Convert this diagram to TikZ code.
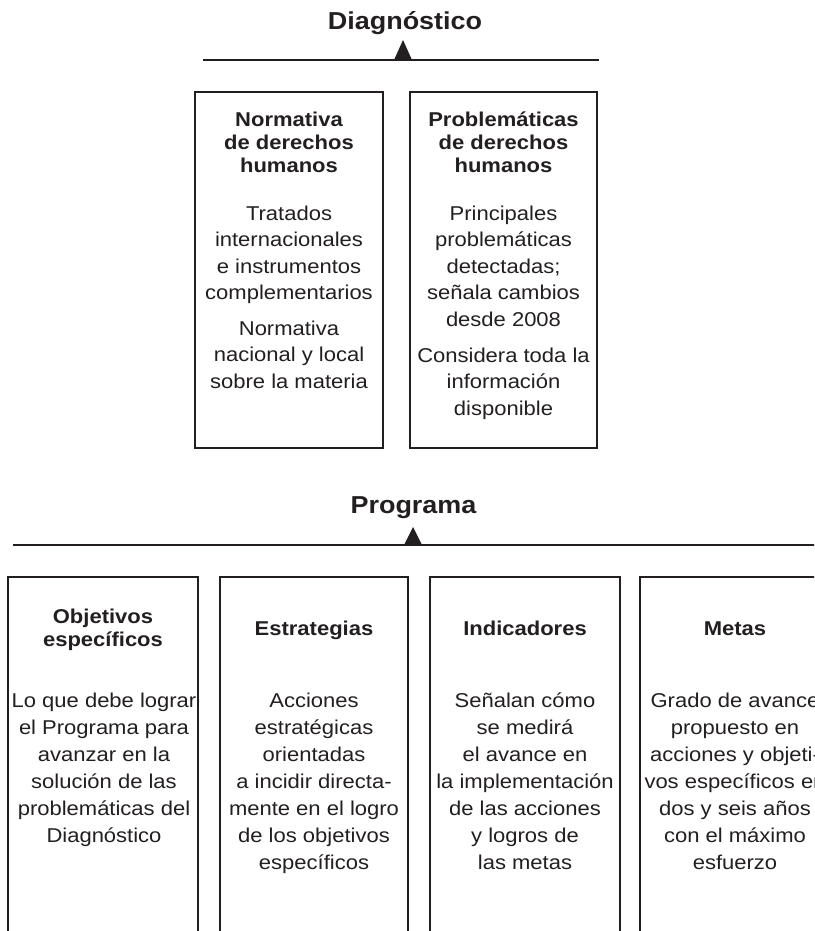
\documentclass[tikz,border=0pt]{standalone}
\usepackage{fontspec}
\setmainfont{Liberation Sans}[FakeStretch=1.1]
\definecolor{ink}{HTML}{231F20}
\tikzset{
  panel/.style={draw=ink, line width=1.1pt, anchor=north west, inner sep=0pt, outer sep=0pt},
  head/.style={font=\bfseries\fontsize{20}{23}\selectfont, align=center, anchor=north, inner sep=0pt, text=ink},
  body/.style={font=\fontsize{20}{26.5}\selectfont, align=center, anchor=north, inner sep=0pt, text=ink},
  pbody/.style={font=\fontsize{20}{27}\selectfont, align=center, anchor=north, inner sep=0pt, text=ink},
  title/.style={font=\bfseries\fontsize{24.5}{28}\selectfont, anchor=base, inner sep=0pt, text=ink},
  rule/.style={line width=2.3pt, draw=ink},
  tip/.style={fill=ink, draw=none}
}
\begin{document}
\begin{tikzpicture}[x=1pt, y=-1pt]
\clip (0,0) rectangle (814,931);
\fill[white] (0,0) rectangle (814,931);

% ---------- Diagnostico ----------
\node[title] (tdiag) at (405,29.5) {Diagnóstico};
\coordinate (dl) at (203,60);
\coordinate (dr) at (599,60);
\draw[rule] (dl) -- (dr);
\fill[tip] (394,60) -- (403,40) -- (412,60) -- cycle;

\node[panel, minimum width=188pt, minimum height=356pt] (dbox1) at (195,92) {};
\node[panel, minimum width=187pt, minimum height=356pt] (dbox2) at (410,92) {};

\node[head] (dh1) at (289,109.9) {\strut Normativa\\de derechos\\humanos};
\node[head] (dh2) at (503.5,109.9) {\strut Problemáticas\\de derechos\\humanos};

\node[body] (db1a) at (289,201.45) {\strut Tratados\\internacionales\\e instrumentos\\complementarios};
\node[body] (db1b) at (289,316.45) {\strut Normativa\\nacional y local\\sobre la materia};
\node[body] (db2a) at (503.5,201.45) {\strut Principales\\problemáticas\\detectadas;\\señala cambios\\desde 2008};
\node[body] (db2b) at (503.5,343.45) {\strut Considera toda la\\información\\disponible};

% ---------- Programa ----------
\node[title] (tprog) at (413.5,513) {Programa};
\coordinate (pl) at (13,545);
\coordinate (pr) at (820,545);
\draw[rule] (pl) -- (pr);
\fill[tip] (404,545) -- (413,527) -- (422,545) -- cycle;

\node[panel, minimum width=190pt, minimum height=400pt] (pbox1) at (8,577) {};
\node[panel, minimum width=188pt, minimum height=400pt] (pbox2) at (220,577) {};
\node[panel, minimum width=190pt, minimum height=400pt] (pbox3) at (430,577) {};
\node[panel, minimum width=190pt, minimum height=400pt] (pbox4) at (640,577) {};

\node[head] (ph1) at (103,607.2) {\strut Objetivos\\específicos};
\node[head] (ph2) at (314,618.9) {\strut Estrategias};
\node[head] (ph3) at (525,618.9) {\strut Indicadores};
\node[head] (ph4) at (735,618.9) {\strut Metas};

\node[pbody] (pb1) at (104,688.1) {\strut Lo que debe lograr\\el Programa para\\avanzar en la\\solución de las\\problemáticas del\\Diagnóstico};
\node[pbody] (pb2) at (314,688.1) {\strut Acciones\\estratégicas\\orientadas\\a incidir directa-\\mente en el logro\\de los objetivos\\específicos};
\node[pbody] (pb3) at (525,688.1) {\strut Señalan cómo\\se medirá\\el avance en\\la implementación\\de las acciones\\y logros de\\las metas};
\node[pbody] (pb4) at (735,688.1) {\strut Grado de avance\\propuesto en\\acciones y objeti-\\vos específicos en\\dos y seis años\\con el máximo\\esfuerzo};
\end{tikzpicture}
\end{document}
